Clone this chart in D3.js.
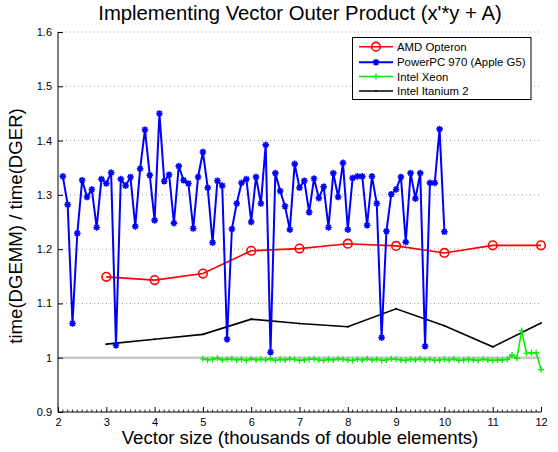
<!DOCTYPE html>
<html>
<head>
<meta charset="utf-8">
<script src="https://cdn.jsdelivr.net/npm/d3@7"></script>
<style>
  html, body { margin: 0; padding: 0; background: #fff; }
  svg { display: block; font-family: "Liberation Sans", Arial, Helvetica, sans-serif; }
</style>
</head>
<body>
<svg id="chart" width="558" height="452"></svg>
<script>
// Ratio of DGEMM to DGER run time for the rank-1 update x'*y + A

const xTicks = [2, 3, 4, 5, 6, 7, 8, 9, 10, 11, 12];
const yTicks = [0.9, 1.0, 1.1, 1.2, 1.3, 1.4, 1.5, 1.6];
const yTickLabels = ["0.9", "1", "1.1", "1.2", "1.3", "1.4", "1.5", "1.6"];

// AMD Opteron, measured at whole thousands
const amdX = [3, 4, 5, 6, 7, 8, 9, 10, 11, 12];
const amdY = [1.149, 1.143, 1.155, 1.197, 1.201, 1.210, 1.206, 1.193, 1.207, 1.207];

// Intel Itanium 2, measured at whole thousands
const itaniumX = [3, 4, 5, 6, 7, 8, 9, 10, 11, 12];
const itaniumY = [1.025, 1.034, 1.043, 1.071, 1.063, 1.057, 1.090, 1.059, 1.020, 1.064];

// PowerPC 970 (Apple G5), sizes 2.1 ... 10.0 in steps of 0.1
const ppcX = d3.range(21, 101).map(i => i / 10);
const ppcY = [
  1.334, 1.282, 1.063, 1.229, 1.327, 1.296, 1.310, 1.240, 1.329, 1.321,
  1.341, 1.023, 1.329, 1.317, 1.333, 1.242, 1.348, 1.420, 1.336, 1.253,
  1.450, 1.325, 1.337, 1.248, 1.353, 1.327, 1.321, 1.238, 1.333, 1.379,
  1.313, 1.212, 1.326, 1.317, 1.034, 1.237, 1.284, 1.322, 1.329, 1.250,
  1.333, 1.284, 1.392, 1.010, 1.340, 1.307, 1.279, 1.236, 1.357, 1.313,
  1.326, 1.268, 1.330, 1.294, 1.315, 1.240, 1.340, 1.296, 1.359, 1.236,
  1.331, 1.334, 1.334, 1.244, 1.334, 1.284, 1.037, 1.233, 1.301, 1.310,
  1.333, 1.213, 1.340, 1.293, 1.340, 1.021, 1.322, 1.322, 1.421, 1.232
];

// Intel Xeon, sizes 5.0 ... 12.0 in steps of 0.1
const xeonX = d3.range(50, 121).map(i => i / 10);
const xeonY = [
  0.998, 0.996, 0.997, 0.999, 0.996, 0.997, 0.998, 0.996, 0.997, 0.995,
  0.998, 0.996, 0.997, 0.996, 0.998, 0.995, 0.997, 0.996, 0.998, 0.997,
  0.995, 0.996, 0.997, 0.998, 0.996, 0.995, 0.997, 0.996, 0.998, 0.997,
  0.996, 0.995, 0.997, 0.996, 0.998, 0.996, 0.997, 0.995, 0.996, 0.998,
  0.997, 0.996, 0.995, 0.997, 0.996, 0.998, 0.996, 0.997, 0.995, 0.996,
  0.997, 0.996, 0.998, 0.995, 0.996, 0.997, 0.996, 0.995, 0.997, 0.996,
  0.995, 0.996, 0.996, 0.997, 1.005, 0.999, 1.050, 1.008, 1.009, 1.009,
  0.978
];

// Reference line at ratio 1
const baselineX = [2, 12];
const baselineY = [1, 1];

const seriesNames = ["AMD Opteron", "PowerPC 970 (Apple G5)", "Intel Xeon", "Intel Itanium 2"];
const seriesColors = ["#ff0000", "#0000ff", "#00ee00", "#000000"];

const svg = d3.select("#chart");
const margin = { left: 58, right: 17, top: 32, bottom: 40 };
const W = 558, H = 452;

const x = d3.scaleLinear().domain([2, 12]).range([margin.left, W - margin.right]);
const y = d3.scaleLinear().domain([0.9, 1.6]).range([H - margin.bottom, margin.top]);

// Dotted horizontal grid
svg.append("g")
  .selectAll("line")
  .data(yTicks.filter(t => t > 0.9))
  .join("line")
  .attr("x1", x(2)).attr("x2", x(12))
  .attr("y1", d => y(d)).attr("y2", d => y(d))
  .attr("stroke", "#9a9a9a")
  .attr("stroke-width", 1)
  .attr("stroke-dasharray", "1,3");

// Baseline at 1
svg.append("line")
  .attr("x1", x(baselineX[0])).attr("x2", x(baselineX[1]))
  .attr("y1", y(baselineY[0])).attr("y2", y(baselineY[1]))
  .attr("stroke", "#c8c8c8")
  .attr("stroke-width", 2.5);

// Axes
const xAxis = d3.axisBottom(x).tickValues(xTicks).tickSize(-5).tickPadding(8).tickFormat(d3.format("d"));
const yAxis = d3.axisLeft(y).tickValues(yTicks).tickSize(-5).tickPadding(6)
  .tickFormat((d, i) => yTickLabels[i]);

const gx = svg.append("g").attr("transform", `translate(0,${y(0.9)})`).call(xAxis);
const gy = svg.append("g").attr("transform", `translate(${x(2)},0)`).call(yAxis);

// Minor ticks along the x axis
svg.append("g")
  .selectAll("line")
  .data(d3.range(20, 121).map(i => i / 10).filter(v => Math.abs(v - Math.round(v)) > 1e-6))
  .join("line")
  .attr("x1", d => x(d)).attr("x2", d => x(d))
  .attr("y1", y(0.9)).attr("y2", y(0.9) - 2.5)
  .attr("stroke", "#000")
  .attr("stroke-width", 0.8);

[gx, gy].forEach(g => {
  g.select(".domain").attr("stroke", "#000").attr("stroke-width", 1);
  g.selectAll(".tick line").attr("stroke", "#000");
  g.selectAll(".tick text").attr("fill", "#000").style("font-size", "11px")
    .style("font-family", "'Liberation Sans', Arial, sans-serif");
});
gx.select(".domain").attr("d", `M${x(2)},0H${x(12)}`);
gy.select(".domain").attr("d", `M0,${y(0.9)}V${y(1.6)}`);
gx.selectAll(".tick text").attr("dy", "0.55em");

// Series lines
const line = d3.line().x(d => x(d[0])).y(d => y(d[1]));
const zipped = (xs, ys) => xs.map((v, i) => [v, ys[i]]);

const amd = zipped(amdX, amdY);
const ppc = zipped(ppcX, ppcY);
const xeon = zipped(xeonX, xeonY);
const itanium = zipped(itaniumX, itaniumY);

function asterisk(g, cx, cy, r, color, sw) {
  const p = `M${cx - r},${cy}H${cx + r}M${cx},${cy - r}V${cy + r}` +
    `M${cx - r * 0.72},${cy - r * 0.72}L${cx + r * 0.72},${cy + r * 0.72}` +
    `M${cx - r * 0.72},${cy + r * 0.72}L${cx + r * 0.72},${cy - r * 0.72}`;
  g.append("path").attr("d", p).attr("stroke", color).attr("stroke-width", sw).attr("fill", "none");
}
function plus(g, cx, cy, r, color, sw) {
  g.append("path").attr("d", `M${cx - r},${cy}H${cx + r}M${cx},${cy - r}V${cy + r}`)
    .attr("stroke", color).attr("stroke-width", sw).attr("fill", "none");
}

// Intel Itanium 2
const gIt = svg.append("g");
gIt.append("path").datum(itanium).attr("d", line)
  .attr("fill", "none").attr("stroke", seriesColors[3]).attr("stroke-width", 1.6);
gIt.selectAll("circle").data(itanium).join("circle")
  .attr("cx", d => x(d[0])).attr("cy", d => y(d[1])).attr("r", 1).attr("fill", seriesColors[3]);

// Intel Xeon
const gXe = svg.append("g");
gXe.append("path").datum(xeon).attr("d", line)
  .attr("fill", "none").attr("stroke", seriesColors[2]).attr("stroke-width", 1.5);
xeon.forEach(d => plus(gXe, x(d[0]), y(d[1]), 3, seriesColors[2], 1.3));

// AMD Opteron
const gAmd = svg.append("g");
gAmd.append("path").datum(amd).attr("d", line)
  .attr("fill", "none").attr("stroke", seriesColors[0]).attr("stroke-width", 1.6);
gAmd.selectAll("circle").data(amd).join("circle")
  .attr("cx", d => x(d[0])).attr("cy", d => y(d[1])).attr("r", 4.3)
  .attr("fill", "none").attr("stroke", seriesColors[0]).attr("stroke-width", 1.6);

// PowerPC 970
const gPpc = svg.append("g");
gPpc.append("path").datum(ppc).attr("d", line)
  .attr("fill", "none").attr("stroke", seriesColors[1]).attr("stroke-width", 2);
ppc.forEach(d => asterisk(gPpc, x(d[0]), y(d[1]), 3.3, seriesColors[1], 1.6));

// Legend
const lg = svg.append("g");
lg.append("rect").attr("x", 352.5).attr("y", 37.5).attr("width", 178.5).attr("height", 62)
  .attr("fill", "#fff").attr("stroke", "#000").attr("stroke-width", 1);
const rowY = [46.7, 62.3, 76.5, 91];
seriesNames.forEach((name, i) => {
  const yy = rowY[i];
  lg.append("line").attr("x1", 359).attr("x2", 393).attr("y1", yy).attr("y2", yy)
    .attr("stroke", seriesColors[i]).attr("stroke-width", i === 1 ? 2 : 1.6);
  if (i === 0) lg.append("circle").attr("cx", 376).attr("cy", yy).attr("r", 4.3)
    .attr("fill", "none").attr("stroke", seriesColors[0]).attr("stroke-width", 1.6);
  if (i === 1) asterisk(lg, 376, yy, 3.3, seriesColors[1], 1.6);
  if (i === 2) plus(lg, 376, yy, 3, seriesColors[2], 1.3);
  if (i === 3) lg.append("circle").attr("cx", 376).attr("cy", yy).attr("r", 1).attr("fill", "#000");
  lg.append("text").attr("x", 397).attr("y", yy).attr("dy", "0.36em")
    .style("font-size", "11.4px").attr("fill", "#000").text(name);
});

// Title and axis labels
svg.append("text").attr("x", 300).attr("y", 20)
  .attr("text-anchor", "middle").style("font-size", "20.3px").attr("fill", "#000")
  .text("Implementing Vector Outer Product (x'*y + A)");
svg.append("text").attr("x", 300).attr("y", 444)
  .attr("text-anchor", "middle").style("font-size", "18.6px").attr("fill", "#000")
  .text("Vector size (thousands of double elements)");
svg.append("text").attr("transform", `translate(22,226) rotate(-90)`)
  .attr("text-anchor", "middle").style("font-size", "18.6px").attr("fill", "#000")
  .text("time(DGEMM) / time(DGER)");
</script>
</body>
</html>
